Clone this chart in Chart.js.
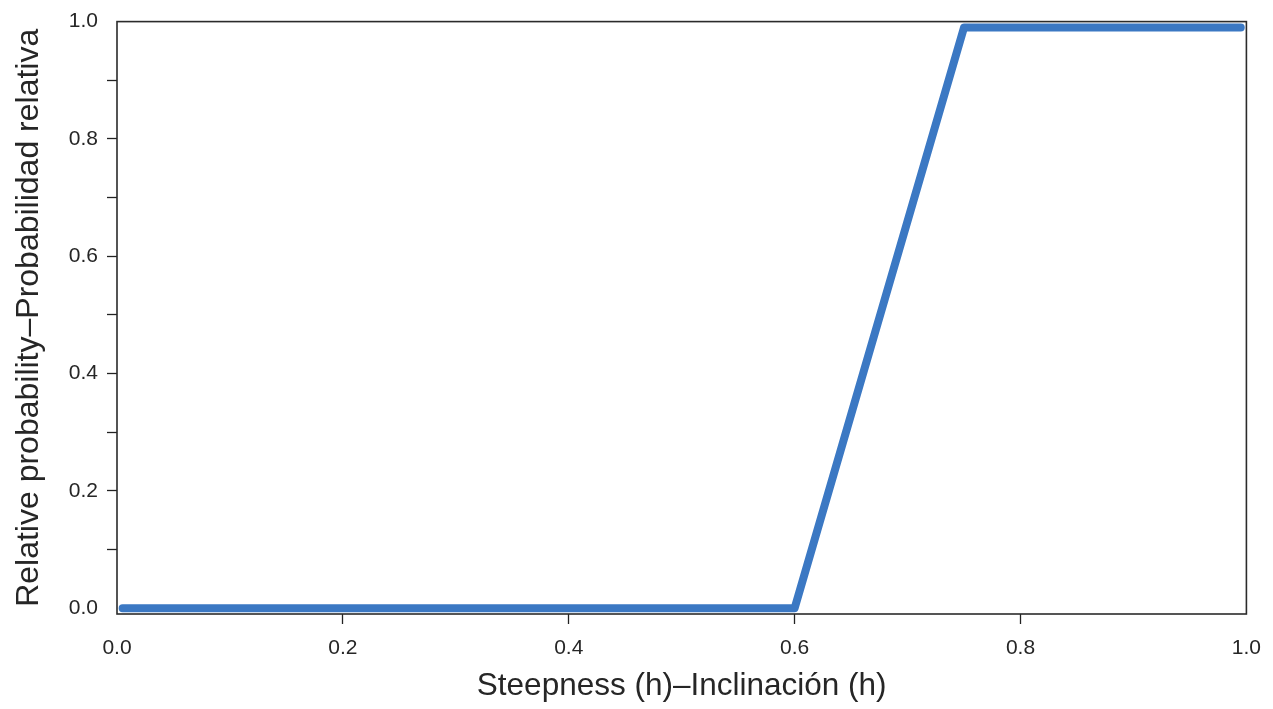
<!DOCTYPE html>
<html>
<head>
<meta charset="utf-8">
<script src="https://cdn.jsdelivr.net/npm/chart.js@4/dist/chart.umd.min.js"></script>
<style>
  html, body { margin: 0; padding: 0; background: #ffffff; }
  #wrap { width: 1273px; height: 709px; position: relative; }
</style>
</head>
<body>
<div id="wrap"><canvas id="c" width="1273" height="709"></canvas></div>
<script>
// Data
const steepness = [0.005, 0.6, 0.75, 0.995];
const relativeProbability = [0.0, 0.0, 0.99, 0.99];

const xTickValues = [0.0, 0.2, 0.4, 0.6, 0.8, 1.0];
const xTickLabels = ['0.0', '0.2', '0.4', '0.6', '0.8', '1.0'];
const yTickValues = [0.0, 0.1, 0.2, 0.3, 0.4, 0.5, 0.6, 0.7, 0.8, 0.9, 1.0];
const yTickLabels = ['0.0', '', '0.2', '', '0.4', '', '0.6', '', '0.8', '', '1.0'];

const xTitle = 'Steepness (h)\u2013Inclinación (h)';
const yTitle = 'Relative probability\u2013Probabilidad relativa';

const points = steepness.map((x, i) => ({ x: x, y: relativeProbability[i] }));

const FONT = "'Liberation Sans', Arial, sans-serif";
const TEXT = '#262626';
const FRAME = '#2b2b2b';

const framePlugin = {
  id: 'frame',
  afterDatasetsDraw(chart) {
    const a = chart.chartArea;
    const ctx = chart.ctx;
    ctx.save();
    ctx.strokeStyle = FRAME;
    ctx.lineWidth = 1.6;
    ctx.strokeRect(a.left, a.top, a.right - a.left, a.bottom - a.top);
    ctx.restore();
  }
};

function hideEdgeTick(values) {
  const lo = values[0], hi = values[values.length - 1];
  return (ctx) => {
    const v = ctx.tick ? ctx.tick.value : null;
    return (v === lo || v === hi) ? 'rgba(0,0,0,0)' : '#222222';
  };
}

new Chart(document.getElementById('c'), {
  type: 'line',
  data: {
    datasets: [{
      data: points,
      borderColor: '#3b78c3',
      borderWidth: 8,
      borderCapStyle: 'round',
      borderJoinStyle: 'round',
      pointRadius: 0,
      fill: false,
      tension: 0,
      clip: false
    }]
  },
  options: {
    responsive: false,
    animation: false,
    devicePixelRatio: 1,
    layout: { padding: { top: 19, right: 23, left: 0, bottom: 0 } },
    plugins: { legend: { display: false }, tooltip: { enabled: false } },
    scales: {
      x: {
        type: 'linear',
        min: 0,
        max: 1.0,
        afterBuildTicks(scale) { scale.ticks = xTickValues.map(v => ({ value: v })); },
        afterFit(scale) { scale.height = 95; },
        border: { display: false },
        grid: {
          drawOnChartArea: false,
          drawTicks: true,
          tickLength: 10,
          tickWidth: 1.3,
          tickColor: hideEdgeTick(xTickValues)
        },
        ticks: {
          padding: 12,
          maxRotation: 0,
          autoSkip: false,
          color: TEXT,
          font: { family: FONT, size: 21 },
          callback: (v, i) => xTickLabels[i]
        },
        title: {
          display: true,
          text: xTitle,
          color: TEXT,
          font: { family: FONT, size: 31.5 },
          padding: 4
        }
      },
      y: {
        type: 'linear',
        min: -0.01,
        max: 1.0,
        afterBuildTicks(scale) { scale.ticks = yTickValues.map(v => ({ value: v })); },
        afterFit(scale) { scale.width = 117; },
        border: { display: false },
        grid: {
          drawOnChartArea: false,
          drawTicks: true,
          tickLength: 10,
          tickWidth: 1.3,
          tickColor: hideEdgeTick(yTickValues)
        },
        ticks: {
          padding: 9,
          autoSkip: false,
          color: TEXT,
          font: { family: FONT, size: 21 },
          callback: (v, i) => yTickLabels[i]
        },
        title: {
          display: true,
          text: yTitle,
          color: TEXT,
          font: { family: FONT, size: 32 },
          padding: 10
        }
      }
    }
  },
  plugins: [framePlugin]
});
</script>
</body>
</html>
